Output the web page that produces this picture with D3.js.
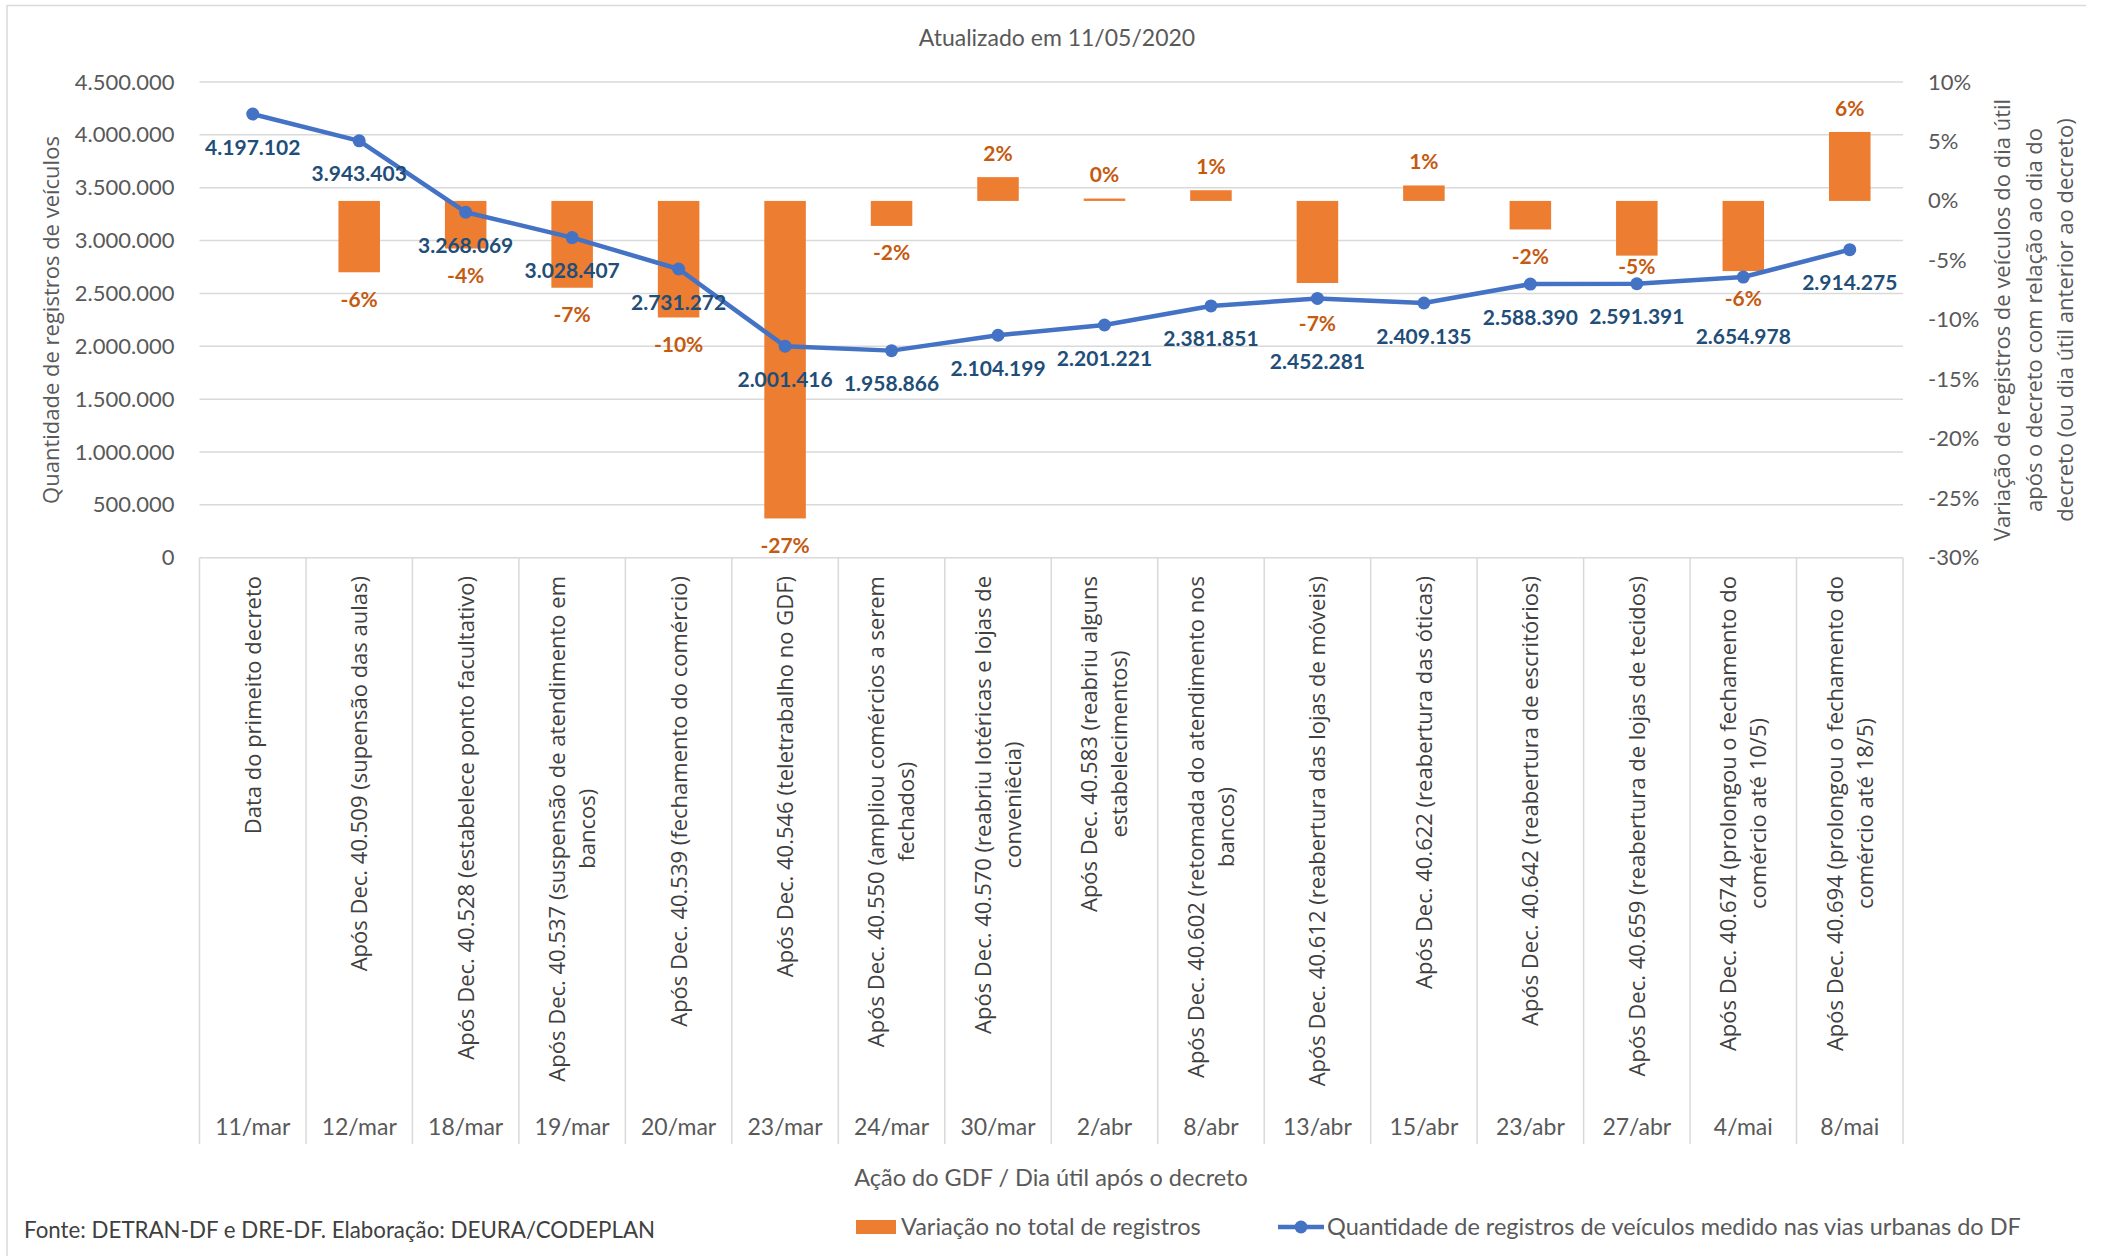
<!DOCTYPE html>
<html>
<head>
<meta charset="utf-8">
<script src="https://cdn.jsdelivr.net/npm/d3@7"></script>
<style>
  html, body { margin: 0; padding: 0; background: #fff; }
  svg { display: block; }
  .cal { font-family: Lato, "Open Sans", sans-serif; }
  .wide { font-family: "Open Sans", "Noto Sans", sans-serif; }
</style>
</head>
<body>
<div id="chart"></div>
<script>
// ---------- data ----------
const dates = ["11/mar", "12/mar", "18/mar", "19/mar", "20/mar", "23/mar", "24/mar", "30/mar",
  "2/abr", "8/abr", "13/abr", "15/abr", "23/abr", "27/abr", "4/mai", "8/mai"];

const actions = [
  "Data do primeito decreto",
  "Após Dec. 40.509 (supensão das aulas)",
  "Após Dec. 40.528 (estabelece ponto facultativo)",
  "Após Dec. 40.537 (suspensão de atendimento em\nbancos)",
  "Após Dec. 40.539 (fechamento do comércio)",
  "Após Dec. 40.546 (teletrabalho no GDF)",
  "Após Dec. 40.550 (ampliou comércios a serem\nfechados)",
  "Após Dec. 40.570 (reabriu lotéricas e lojas de\nconveniêcia)",
  "Após Dec. 40.583 (reabriu alguns\nestabelecimentos)",
  "Após Dec. 40.602 (retomada do atendimento nos\nbancos)",
  "Após Dec. 40.612 (reabertura das lojas de móveis)",
  "Após Dec. 40.622 (reabertura das óticas)",
  "Após Dec. 40.642 (reabertura de escritórios)",
  "Após Dec. 40.659 (reabertura de lojas de tecidos)",
  "Após Dec. 40.674 (prolongou o fechamento do\ncomércio até 10/5)",
  "Após Dec. 40.694 (prolongou o fechamento do\ncomércio até 18/5)"
];

// vehicle registrations (line, left axis)
const registros = [4197102, 3943403, 3268069, 3028407, 2731272, 2001416, 1958866, 2104199,
  2201221, 2381851, 2452281, 2409135, 2588390, 2591391, 2654978, 2914275];

// variation (bars, right axis) - first day has no bar
const variacao = [null, -0.060, -0.040, -0.073, -0.098, -0.267, -0.021, 0.020,
  0.002, 0.009, -0.069, 0.013, -0.024, -0.046, -0.059, 0.058];

const leftTicks = [0, 500000, 1000000, 1500000, 2000000, 2500000, 3000000, 3500000, 4000000, 4500000];
const rightTicks = [-0.30, -0.25, -0.20, -0.15, -0.10, -0.05, 0, 0.05, 0.10];

const titleText = "Atualizado em 11/05/2020";
const leftTitle = "Quantidade de registros de veículos";
const rightTitle = ["Variação de registros de veículos do dia útil", "após o decreto com relação ao dia do", "decreto (ou dia útil anterior ao decreto)"];
const xTitle = "Ação do GDF / Dia útil após o decreto";
const sourceText = "Fonte: DETRAN-DF e DRE-DF. Elaboração: DEURA/CODEPLAN";
const legendBar = "Variação no total de registros";
const legendLine = "Quantidade de registros de veículos medido nas vias urbanas do DF";

// ---------- setup ----------
const W = 2102, H = 1256;
const plot = { left: 199.5, right: 1903, top: 82, bottom: 557.7, catBottom: 1144 };
const orange = "#ED7D31", orangeText = "#C55A11", blue = "#4472C4", blueText = "#1F4E79";
const grey = "#595959", gridCol = "#D9D9D9";

const br = d3.formatLocale({ decimal: ",", thousands: ".", grouping: [3], currency: ["R$", ""] });
const fmtInt = br.format(",d");
const fmtPct = (v) => { const r = Math.round(v * 100); return (r === 0 ? 0 : r) + "%"; };

const svg = d3.select("#chart").append("svg").attr("width", W).attr("height", H);
svg.append("rect").attr("width", W).attr("height", H).attr("fill", "#fff");

// outer border (top/left visible)
svg.append("path").attr("d", `M7,${H} V5.5 H2086`).attr("fill", "none").attr("stroke", gridCol).attr("stroke-width", 1.5);

// scales
const xStep = d3.scaleBand().domain(dates).range([plot.left, plot.right]).padding(0);
const xBar = d3.scaleBand().domain(dates).range([plot.left, plot.right]).paddingInner(0.61).paddingOuter(0.305);
const cx = (d) => xStep(d) + xStep.bandwidth() / 2;
const yL = d3.scaleLinear().domain([0, 4500000]).range([plot.bottom, plot.top]);
const yR = d3.scaleLinear().domain([-0.30, 0.10]).range([plot.bottom, plot.top]);

// gridlines
svg.append("g").selectAll("line").data(leftTicks).join("line")
  .attr("x1", plot.left).attr("x2", plot.right)
  .attr("y1", (d) => yL(d)).attr("y2", (d) => yL(d))
  .attr("stroke", gridCol).attr("stroke-width", 1.5);

// category separators
const edges = dates.map((d) => xStep(d)).concat([plot.right]);
svg.append("g").selectAll("line").data(edges).join("line")
  .attr("x1", (d) => d).attr("x2", (d) => d)
  .attr("y1", plot.bottom).attr("y2", plot.catBottom)
  .attr("stroke", gridCol).attr("stroke-width", 1.5);

// left axis
const axL = svg.append("g").attr("transform", `translate(${plot.left - 25},0)`)
  .call(d3.axisLeft(yL).tickValues(leftTicks).tickFormat(fmtInt).tickSize(0).tickPadding(0));
axL.select(".domain").remove();
axL.selectAll("text").attr("class", "cal").attr("font-size", 22).attr("fill", grey);

// right axis
const axR = svg.append("g").attr("transform", `translate(1928,0)`)
  .call(d3.axisRight(yR).tickValues(rightTicks).tickFormat(fmtPct).tickSize(0).tickPadding(0));
axR.select(".domain").remove();
axR.selectAll("text").attr("class", "cal").attr("font-size", 22).attr("fill", grey);

// bars
const barData = dates.map((d, i) => ({ date: d, v: variacao[i], reg: registros[i] }));
svg.append("g").selectAll("rect").data(barData.filter((d) => d.v !== null)).join("rect")
  .attr("x", (d) => xBar(d.date))
  .attr("width", xBar.bandwidth())
  .attr("y", (d) => Math.min(yR(0), yR(d.v)))
  .attr("height", (d) => Math.max(2, Math.abs(yR(d.v) - yR(0))))
  .attr("fill", orange);

// line
const line = d3.line().x((d) => cx(d.date)).y((d) => yL(d.reg));
svg.append("path").datum(barData).attr("d", line)
  .attr("fill", "none").attr("stroke", blue).attr("stroke-width", 4.5).attr("stroke-linejoin", "round");
svg.append("g").selectAll("circle").data(barData).join("circle")
  .attr("cx", (d) => cx(d.date)).attr("cy", (d) => yL(d.reg)).attr("r", 6.5).attr("fill", blue);

// label placement: orange at bar end, blue below marker, nudged on collision
barData.forEach((d) => {
  const my = yL(d.reg);
  d.blueY = my + 33;
  if (d.v === null) return;
  const end = yR(d.v);
  let oy = d.v >= 0 ? end - 24 : end + 27;
  if (Math.abs(oy - my) < 16) {
    oy = (my - end >= 28) ? (end + my) / 2 - 3 : my + 25;
  }
  d.orangeY = oy;
  if (Math.abs(d.blueY - oy) < 24) d.blueY = oy + 38;
});

svg.append("g").selectAll("text").data(barData.filter((d) => d.v !== null)).join("text")
  .attr("class", "cal")
  .attr("x", (d) => cx(d.date)).attr("y", (d) => d.orangeY).attr("dy", "0.36em")
  .attr("text-anchor", "middle").attr("font-size", 21).attr("font-weight", 700)
  .attr("fill", orangeText).text((d) => fmtPct(d.v));

svg.append("g").selectAll("text").data(barData).join("text")
  .attr("class", "cal")
  .attr("x", (d) => cx(d.date)).attr("y", (d) => d.blueY).attr("dy", "0.36em")
  .attr("text-anchor", "middle").attr("font-size", 21).attr("font-weight", 700)
  .attr("fill", blueText).text((d) => fmtInt(d.reg));

// category (action) labels, rotated
const catG = svg.append("g").selectAll("g").data(dates).join("g")
  .attr("transform", (d) => `translate(${cx(d)},576) rotate(-90)`);
catG.each(function (d, i) {
  const g = d3.select(this);
  const lines = actions[i].split("\n");
  const texts = lines.map((t, j) => g.append("text")
    .attr("class", "wide").attr("font-size", 22).attr("fill", "#404040")
    .attr("text-anchor", "middle")
    .attr("y", (j - (lines.length - 1) / 2) * 30).attr("dy", "0.36em")
    .text(t));
  const L = d3.max(texts, (t) => t.node().getComputedTextLength());
  texts.forEach((t) => t.attr("x", -L / 2));
});

// date labels
svg.append("g").selectAll("text").data(dates).join("text")
  .attr("class", "cal")
  .attr("x", (d) => cx(d)).attr("y", 1127).attr("dy", "0.36em")
  .attr("text-anchor", "middle").attr("font-size", 23).attr("fill", grey)
  .text((d) => d);

// titles
svg.append("text").attr("class", "cal").attr("x", 1057).attr("y", 38).attr("dy", "0.36em")
  .attr("text-anchor", "middle").attr("font-size", 23).attr("fill", grey).text(titleText);

svg.append("text").attr("class", "wide")
  .attr("transform", "translate(51,320) rotate(-90)").attr("dy", "0.36em")
  .attr("text-anchor", "middle").attr("font-size", 22).attr("fill", grey).text(leftTitle);

svg.append("g").attr("transform", "translate(2034,320) rotate(-90)")
  .selectAll("text").data(rightTitle).join("text")
  .attr("class", "wide").attr("y", (d, i) => (i - 1) * 31.5).attr("dy", "0.36em")
  .attr("text-anchor", "middle").attr("font-size", 22).attr("fill", grey).text((d) => d);

svg.append("text").attr("class", "cal").attr("x", 1051).attr("y", 1178).attr("dy", "0.36em")
  .attr("text-anchor", "middle").attr("font-size", 23.5).attr("fill", grey).text(xTitle);

// source
svg.append("text").attr("class", "cal").attr("x", 24).attr("y", 1230).attr("dy", "0.36em")
  .attr("font-size", 22.3).attr("fill", "#404040").text(sourceText);

// legend
const leg = svg.append("g");
leg.append("rect").attr("x", 856).attr("y", 1220).attr("width", 40).attr("height", 14).attr("fill", orange);
leg.append("text").attr("class", "cal").attr("x", 901).attr("y", 1227).attr("dy", "0.36em")
  .attr("font-size", 23.5).attr("fill", grey).text(legendBar);
leg.append("line").attr("x1", 1278).attr("x2", 1324).attr("y1", 1227).attr("y2", 1227)
  .attr("stroke", blue).attr("stroke-width", 4.5);
leg.append("circle").attr("cx", 1301).attr("cy", 1227).attr("r", 6.5).attr("fill", blue);
leg.append("text").attr("class", "cal").attr("x", 1327).attr("y", 1227).attr("dy", "0.36em")
  .attr("font-size", 23.5).attr("fill", grey).text(legendLine);
</script>
</body>
</html>
